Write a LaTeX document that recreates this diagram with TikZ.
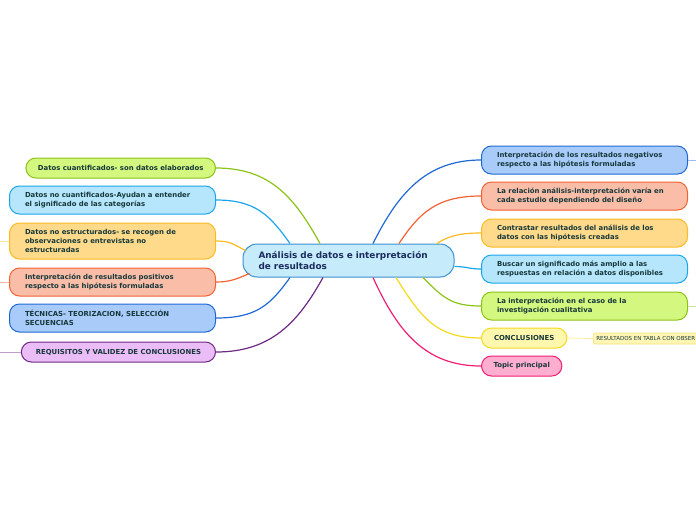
\documentclass[tikz,border=0pt]{standalone}
\usepackage{fontspec}
\setmainfont{DejaVu Sans}
\definecolor{txt}{HTML}{17383A}
\definecolor{ctxt}{HTML}{1B2D5E}
\definecolor{cfill}{HTML}{C6EBFB}\definecolor{cline}{HTML}{3D8FCF}
\definecolor{gfill}{HTML}{D4F77F}\definecolor{gline}{HTML}{8CC317}
\definecolor{lbfill}{HTML}{B5E6FC}\definecolor{lbline}{HTML}{1BA5EC}
\definecolor{ofill}{HTML}{FFDA8A}\definecolor{oline}{HTML}{FDBA21}
\definecolor{sfill}{HTML}{F9BDA8}\definecolor{sline}{HTML}{F26233}
\definecolor{bfill}{HTML}{A8CBFA}\definecolor{bline}{HTML}{1F69D4}
\definecolor{pfill}{HTML}{EBBDF7}\definecolor{pline}{HTML}{6D2A82}
\definecolor{yfill}{HTML}{FFF7AD}\definecolor{yline}{HTML}{F2D920}
\definecolor{kfill}{HTML}{FFAED0}\definecolor{kline}{HTML}{EF1E75}
\definecolor{nfill}{HTML}{FFF6B5}\definecolor{nline}{HTML}{F5E07A}
\begin{document}
\begin{tikzpicture}[x=1pt,y=-1pt,
    topic/.style 2 args={fill=#1,draw=#2,rounded corners=10pt,line width=1pt,
      font=\bfseries\fontsize{6.9}{9}\selectfont,text=txt,align=left,
      inner xsep=12pt,inner ysep=2pt,minimum height=20pt},
    wide/.style={text width=175pt,inner xsep=15.5pt,minimum height=28pt},
    link/.style={draw=#1,line width=1.2pt},
    stub/.style={draw=#1!45,line width=0.8pt}]
  \useasboundingbox (0,0) rectangle (696,520);
  \node[fill=cfill,draw=cline,rounded corners=14pt,line width=1pt,
    minimum width=211pt,minimum height=33pt,text width=180pt,align=left,
    font=\bfseries\fontsize{8.9}{11}\selectfont,text=ctxt] (c) at (348.5,260.5)
    {Análisis de datos e interpretación\\de resultados};
  % left side
  \node[topic={gfill}{gline},anchor=east] (l1) at (216,168)
    {Datos cuantificados- son datos elaborados};
  \node[topic={lbfill}{lbline},wide,anchor=east] (l2) at (216,200)
    {Datos no cuantificados-Ayudan a entender\\el significado de las categorías};
  \node[topic={ofill}{oline},wide,minimum height=36pt,anchor=east] (l3) at (216,241)
    {Datos no estructurados- se recogen de\\observaciones o entrevistas no\\estructuradas};
  \node[topic={sfill}{sline},wide,anchor=east] (l4) at (216,282)
    {Interpretación de resultados positivos\\respecto a las hipótesis formuladas};
  \node[topic={bfill}{bline},wide,anchor=east] (l5) at (216,318)
    {TÉCNICAS- TEORIZACION, SELECCIÓN\\SECUENCIAS};
  \node[topic={pfill}{pline},inner xsep=14.5pt,anchor=east] (l6) at (216,352)
    {REQUISITOS Y VALIDEZ DE CONCLUSIONES};
  % right side
  \node[topic={bfill}{bline},wide,anchor=west] (r1) at (481,160)
    {Interpretación de los resultados negativos\\respecto a las hipótesis formuladas};
  \node[topic={sfill}{sline},wide,anchor=west] (r2) at (481,196)
    {La relación análisis-interpretación varía en\\cada estudio dependiendo del diseño};
  \node[topic={ofill}{oline},wide,anchor=west] (r3) at (481,233)
    {Contrastar resultados del análisis de los\\datos con las hipótesis creadas};
  \node[topic={lbfill}{lbline},wide,anchor=west] (r4) at (481,269)
    {Buscar un significado más amplio a las\\respuestas en relación a datos disponibles};
  \node[topic={gfill}{gline},wide,anchor=west] (r5) at (481,306)
    {La interpretación en el caso de la\\investigación cualitativa};
  \node[topic={yfill}{yline},inner xsep=12.5pt,anchor=west] (r6) at (481,338)
    {CONCLUSIONES};
  \node[topic={kfill}{kline},inner xsep=12pt,anchor=west] (r7) at (481,366)
    {Topic principal};
  \node[fill=nfill,draw=nline,rounded corners=2pt,line width=0.6pt,text=txt,
    font=\fontsize{5.5}{6}\selectfont,inner xsep=3pt,minimum height=11pt,
    anchor=west] (n1) at (593,338.5) {RESULTADOS EN TABLA CON OBSER};
  % links
  \draw[link=gline] ([xshift=-28.5pt]c.north) .. controls +(-25,-45) and +(55,0) .. (l1.east);
  \draw[link=lbline] ([xshift=-58.5pt]c.north) .. controls +(-20,-28) and +(40,0) .. (l2.east);
  \draw[link=oline] ([xshift=3pt,yshift=10pt]c.west) .. controls +(-12,-6) and +(15,0) .. (l3.east);
  \draw[link=sline] ([xshift=7pt,yshift=-13pt]c.west) .. controls +(-12,5) and +(15,0) .. (l4.east);
  \draw[link=bline] ([xshift=-58.5pt]c.south) .. controls +(-20,28) and +(40,0) .. (l5.east);
  \draw[link=pline] ([xshift=-25.5pt]c.south) .. controls +(-25,45) and +(55,0) .. (l6.east);
  \draw[link=bline] ([xshift=24.5pt]c.north) .. controls +(25,-50) and +(-55,0) .. (r1.west);
  \draw[link=sline] ([xshift=50.5pt]c.north) .. controls +(20,-30) and +(-45,0) .. (r2.west);
  \draw[link=oline] ([xshift=88.5pt]c.north) .. controls +(12,-8) and +(-20,0) .. (r3.west);
  \draw[link=lbline] ([yshift=-6pt]c.east) .. controls +(12,0) and +(-12,0) .. (r4.west);
  \draw[link=gline] ([xshift=74.5pt]c.south) .. controls +(20,20) and +(-30,0) .. (r5.west);
  \draw[link=yline] ([xshift=47.5pt]c.south) .. controls +(25,40) and +(-45,0) .. (r6.west);
  \draw[link=kline] ([xshift=24.5pt]c.south) .. controls +(25,55) and +(-55,0) .. (r7.west);
  % stubs
  \coordinate (e3) at (0,241);
  \coordinate (e4) at (0,282);
  \coordinate (e6) at (0,352);
  \coordinate (f1) at (696,160);
  \coordinate (f5) at (696,306);
  \draw[stub=oline] (l3.west) -- (e3);
  \draw[stub=sline] (l4.west) -- (e4);
  \draw[stub=pline] (l6.west) -- (e6);
  \draw[stub=bline] (r1.east) -- (f1);
  \draw[stub=gline] (r5.east) -- (f5);
  \draw[stub=yline] (r6.east) -- (n1.west);
\end{tikzpicture}
\end{document}
